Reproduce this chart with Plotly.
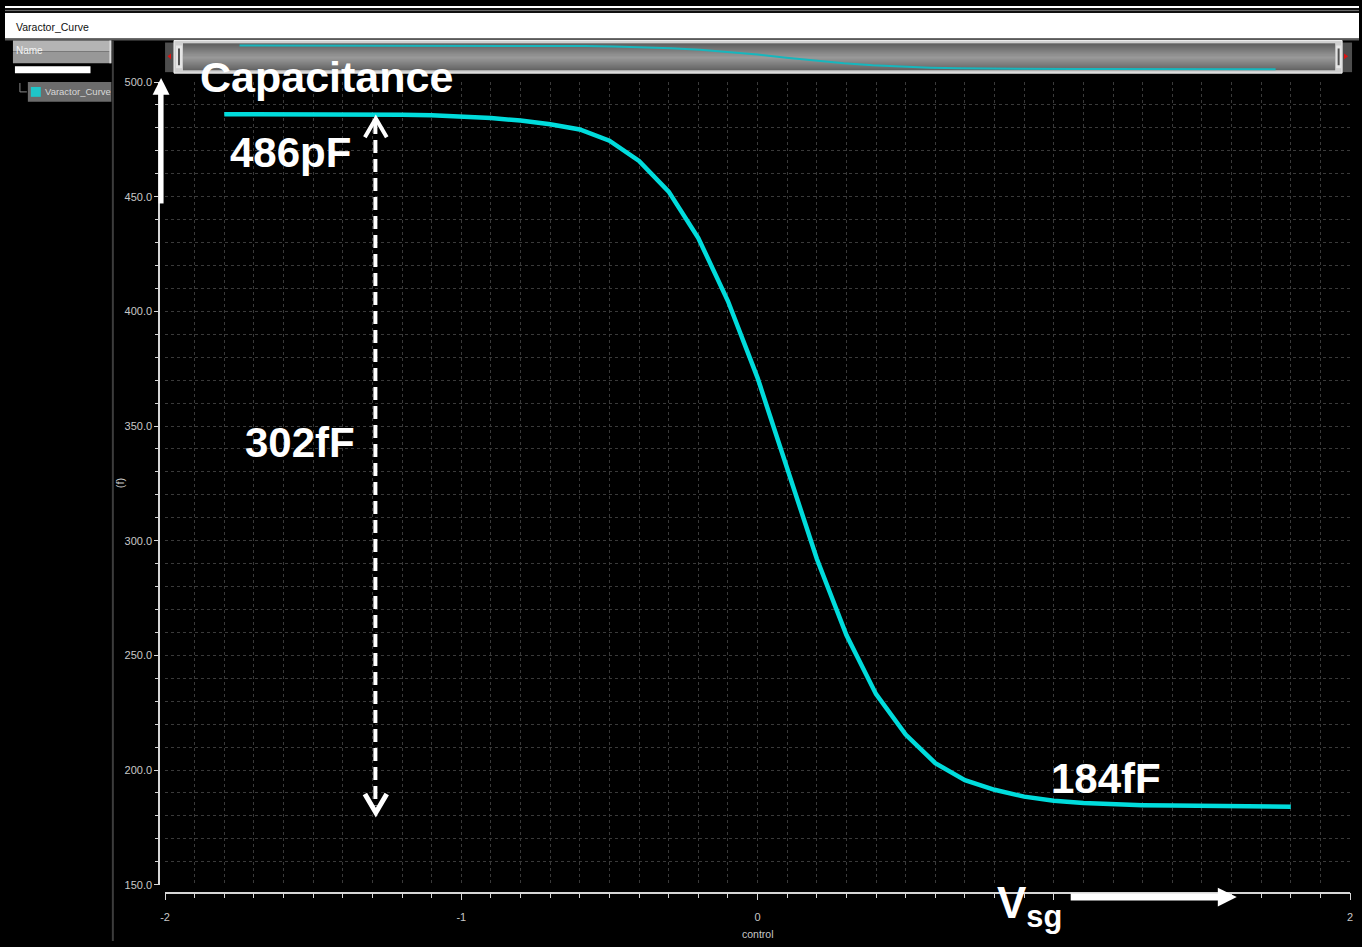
import plotly.graph_objects as go

# Canvas size in pixels; helpers convert pixel positions to paper coordinates
W, H = 1362, 947


def px(x):
    return x / W


def py(y):
    return 1 - y / H


# Varactor sweep: control voltage (V) and capacitance (fF)
vsg = [-1.8, -1.7, -1.6, -1.5, -1.4, -1.3, -1.2, -1.1, -1.0, -0.9,
       -0.8, -0.7, -0.6, -0.5, -0.4, -0.3, -0.2, -0.1, 0.0, 0.1,
       0.2, 0.3, 0.4, 0.5, 0.6, 0.7, 0.8, 0.9, 1.0, 1.1,
       1.2, 1.3, 1.4, 1.5, 1.6, 1.7, 1.8]
cap_ff = [486.0, 486.0, 486.0, 486.0, 485.9, 485.9, 485.7, 485.5, 485.1, 484.3,
          483.2, 481.6, 479.3, 474.4, 465.6, 452.2, 432.0, 404.5, 371.0, 331.3,
          292.1, 258.9, 233.1, 215.5, 203.0, 195.6, 191.4, 188.4, 186.6, 185.6,
          185.0, 184.7, 184.5, 184.3, 184.2, 184.1, 184.0]

# Annotated values
c_max_label = "486pF"
c_min_label = "184fF"
c_span_label = "302fF"
c_max = 486.0
c_min = 184.0

x_range = [-2, 2]
y_range = [150, 500]
x_tickvals = [-2, -1, 0, 1, 2]
x_ticktext = ["-2", "-1", "0", "", "2"]

TEAL = "#00dcdc"
AXIS = "#d6d6d6"
GRID = "#3a3a3a"
SMALL = "Liberation Sans, Arial, sans-serif"
BOLD = "Liberation Sans, Arial, sans-serif"

fig = go.Figure()

# Main curve
fig.add_trace(go.Scatter(
    x=vsg, y=cap_ff, mode="lines",
    line=dict(color=TEAL, width=4.5),
    xaxis="x", yaxis="y", hoverinfo="x+y", showlegend=False,
))

# Miniature of the curve inside the scroll bar
fig.add_trace(go.Scatter(
    x=vsg, y=cap_ff, mode="lines",
    line=dict(color="#17b6bd", width=2),
    xaxis="x2", yaxis="y2", hoverinfo="skip", showlegend=False,
))

shapes = []


def rect(x0, y0, x1, y1, fill, line=None, lw=0, layer="below"):
    shapes.append(dict(
        type="rect", xref="paper", yref="paper",
        x0=px(x0), x1=px(x1), y0=py(y1), y1=py(y0),
        fillcolor=fill, line=dict(color=line or fill, width=lw), layer=layer,
    ))


def path(points, color, width=0, fill=None, closed=False, layer="above"):
    d = "M " + " L ".join(f"{px(x):.6f},{py(y):.6f}" for x, y in points)
    if closed:
        d += " Z"
    s = dict(type="path", xref="paper", yref="paper", path=d,
             line=dict(color=color, width=width), layer=layer)
    if fill:
        s["fillcolor"] = fill
    shapes.append(s)


# Window header strip
rect(0, 0, W, 2, "#ffffff")
rect(0, 2, W, 7, "#101010")
rect(0, 4, W, 5, "#6a6a6a")
rect(0, 7, W, 33, "#ffffff")
rect(0, 33, W, 35, "#5a5a5a")

# Left (Name) panel
rect(8, 35, 107, 46, "#b4b4b4")
rect(8, 46, 107, 58, "#989898")
rect(105, 35, 107, 58, "#dcdcdc")
rect(10, 61, 86, 68, "#ffffff")
rect(23, 77, 107, 97, "#6c6c6c")
rect(26, 82, 36, 92, "#1fc6c9")
path([(15, 78), (15, 87), (22, 87)], "#8a8a8a", width=1, layer="below")
rect(107.5, 35, 109.5, H, "#3c3c3c")

# Scroll bar: end caps, frame and shaded thumb
rect(161, 37, 171, 67, "#4e4e4e")
rect(1345, 37, 1355, 67, "#4e4e4e")
path([(167, 48), (163.5, 51), (167, 54)], "#e01010", fill="#e01010", closed=True, layer="below")
path([(1347, 48), (1351, 51), (1347, 54)], "#e01010", fill="#e01010", closed=True, layer="below")
rect(170, 35, 1345, 68, "#cfcfcf", line="#f2f2f2", lw=1)
shade_top = (0x3a, 0x3a, 0x3a)
shade_mid = (0x8e, 0x8e, 0x8e)
shade_bot = (0x48, 0x48, 0x48)
y_top, y_mid, y_bot = 38, 52, 65
for yy in range(y_top, y_bot):
    if yy <= y_mid:
        t = (yy - y_top) / (y_mid - y_top)
        c = [round(a + (b - a) * t) for a, b in zip(shade_top, shade_mid)]
    else:
        t = (yy - y_mid) / (y_bot - y_mid)
        c = [round(a + (b - a) * t) for a, b in zip(shade_mid, shade_bot)]
    rect(179, yy, 1338, yy + 1, "rgb({},{},{})".format(*c))
rect(172, 40, 178, 63, "#e6e6e6")
rect(174, 43, 176, 60, "#505050")
rect(1339, 40, 1344, 63, "#e6e6e6")
rect(1340.5, 43, 1342.5, 60, "#505050")

# Arrow along the capacitance axis
rect(154.5, 88, 159.5, 200, "#ffffff", layer="above")
path([(148.5, 90), (157, 73), (165.5, 90)], "#ffffff", fill="#ffffff", closed=True)

# Arrow along the Vsg axis
rect(1072, 899, 1222, 906, "#ffffff", layer="above")
path([(1220, 893), (1239, 902.5), (1220, 912)], "#ffffff", fill="#ffffff", closed=True)

# Dashed span marker between the two plateaus (data coordinates)
shapes.append(dict(
    type="line", xref="x", yref="y", x0=-1.29, x1=-1.29, y0=c_max - 3, y1=c_min + 0.5,
    line=dict(color="#ffffff", width=4, dash="13px,6px"), layer="above",
))
path([(362, 133), (373, 114), (384, 133)], "#ffffff", width=4)
path([(362, 798), (373, 817), (384, 798)], "#ffffff", width=5)

annotations = [
    dict(text="Varactor_Curve", x=px(9), y=py(21), xanchor="left", yanchor="middle",
         font=dict(family=SMALL, size=10.5, color="#101010")),
    dict(text="Name", x=px(9), y=py(45), xanchor="left", yanchor="middle",
         font=dict(family=SMALL, size=10, color="#f4f4f4")),
    dict(text="Varactor_Curve", x=px(38), y=py(87), xanchor="left", yanchor="middle",
         font=dict(family=SMALL, size=9.5, color="#d8d8d8")),
    dict(text="Capacitance", x=px(194), y=py(72), xanchor="left", yanchor="middle",
         font=dict(family=BOLD, size=43, color="#ffffff", weight="bold")),
    dict(text=c_max_label, x=px(224), y=py(148), xanchor="left", yanchor="middle",
         font=dict(family=BOLD, size=42, color="#ffffff", weight="bold")),
    dict(text=c_span_label, x=px(239), y=py(442), xanchor="left", yanchor="middle",
         font=dict(family=BOLD, size=42, color="#ffffff", weight="bold")),
    dict(text=c_min_label, x=px(1050), y=py(782), xanchor="left", yanchor="middle",
         font=dict(family=BOLD, size=42, color="#ffffff", weight="bold")),
    dict(text="V<sub>sg</sub>", x=px(996), y=py(912), xanchor="left", yanchor="middle",
         font=dict(family=BOLD, size=44, color="#ffffff", weight="bold")),
    dict(text="(f)", x=px(116), y=py(483), xanchor="center", yanchor="middle",
         textangle=-90, font=dict(family=SMALL, size=11, color="#c8c8c8")),
    dict(text="control", x=px(757), y=py(940), xanchor="center", yanchor="middle",
         font=dict(family=SMALL, size=10.5, color="#c8c8c8")),
]
for a in annotations:
    a.update(xref="paper", yref="paper", showarrow=False)

fig.update_layout(
    width=W, height=H,
    margin=dict(l=0, r=0, t=0, b=0),
    paper_bgcolor="#000000",
    plot_bgcolor="rgba(0,0,0,0)",
    showlegend=False,
    shapes=shapes,
    annotations=annotations,
    xaxis=dict(
        domain=[px(161), px(1353)], range=x_range, anchor="free", position=py(898),
        showline=True, linecolor=AXIS, linewidth=1.5,
        ticks="outside", ticklen=7, tickwidth=1, tickcolor=AXIS,
        tickmode="array", tickvals=x_tickvals, ticktext=x_ticktext, ticklabelstandoff=7,
        tickfont=dict(family=SMALL, size=11, color="#c8c8c8"),
        showgrid=True, gridcolor=GRID, griddash="dot", gridwidth=1,
        minor=dict(dtick=0.1, tick0=0, ticks="outside", ticklen=5, tickcolor=AXIS,
                   showgrid=True, gridcolor=GRID, griddash="dot", gridwidth=1),
        zeroline=False, fixedrange=True,
    ),
    yaxis=dict(
        domain=[py(890), py(77)], range=y_range, anchor="free", position=px(155),
        showline=True, linecolor=AXIS, linewidth=1.5,
        ticks="outside", ticklen=4, tickwidth=1, tickcolor=AXIS,
        tick0=0, dtick=50, tickformat=".1f",
        tickfont=dict(family=SMALL, size=11, color="#c8c8c8"),
        showgrid=True, gridcolor=GRID, griddash="dot", gridwidth=1,
        minor=dict(dtick=10, ticks="outside", ticklen=3, tickcolor=AXIS,
                   showgrid=True, gridcolor=GRID, griddash="dot", gridwidth=1),
        zeroline=False, fixedrange=True,
    ),
    xaxis2=dict(domain=[px(178), px(1336)], range=x_range, anchor="y2",
                visible=False, fixedrange=True),
    yaxis2=dict(domain=[py(68), py(36)], range=[133.7, 536.3], anchor="x2",
                visible=False, fixedrange=True),
)

fig.write_html(
    "out.html",
    config={"displayModeBar": False},
    post_script="document.body.style.margin='0';document.body.style.overflow='hidden';",
)
